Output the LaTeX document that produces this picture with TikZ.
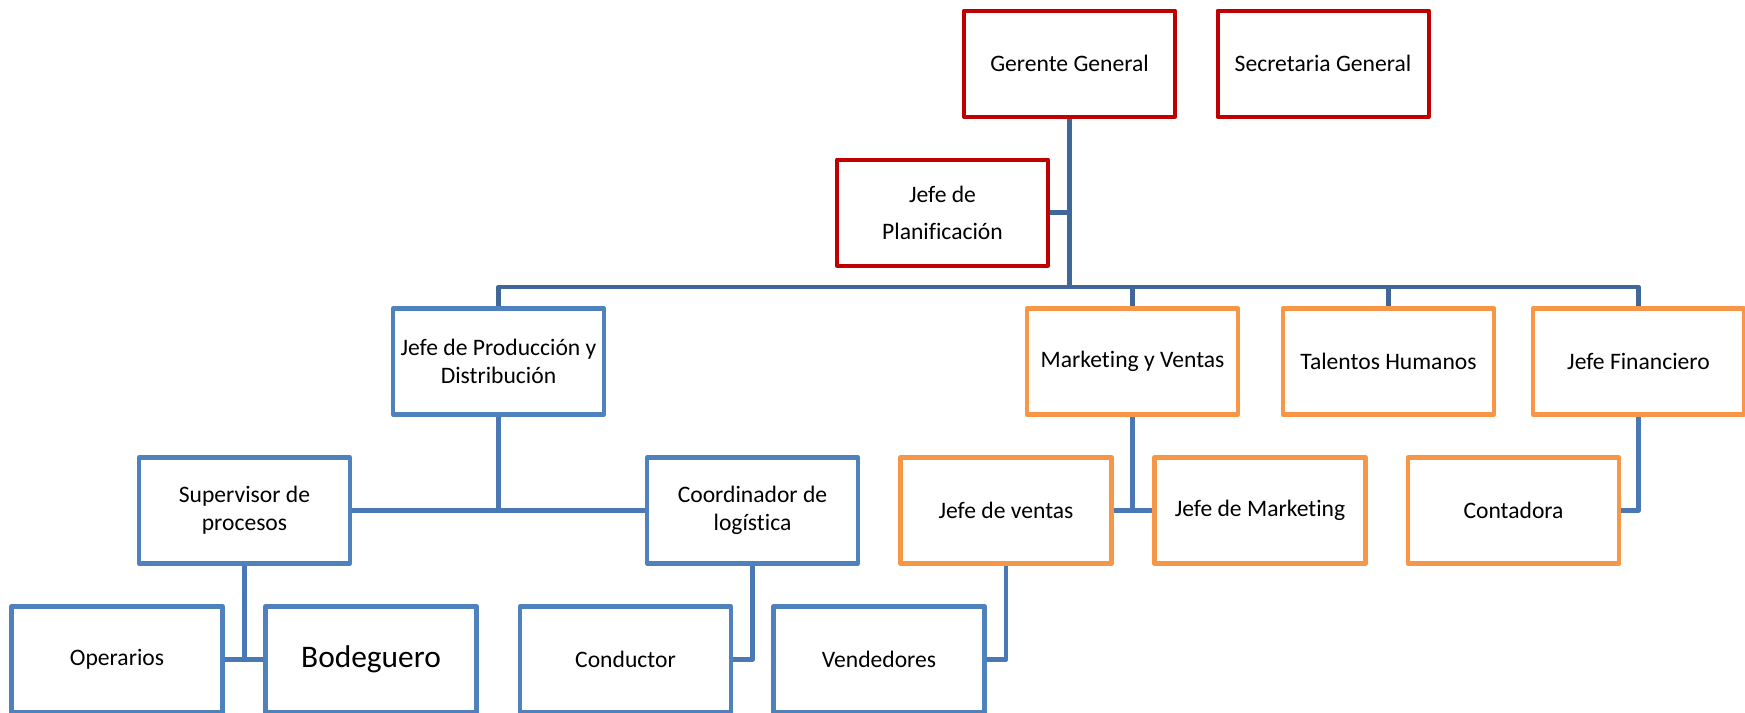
\documentclass[tikz,border=0pt]{standalone}
\usepackage{fontspec}
\setmainfont{Carlito}[Ligatures=NoCommon]
\usetikzlibrary{backgrounds}
\definecolor{redb}{RGB}{192,0,0}
\definecolor{blueb}{RGB}{79,129,189}
\definecolor{orangeb}{RGB}{247,150,70}
\definecolor{conn}{RGB}{74,120,180}
\definecolor{conntop}{RGB}{63,103,152}
\begin{document}
\begin{tikzpicture}[x=0.5pt,y=-0.5pt,
  box/.style={draw, minimum width=105.5pt, minimum height=53pt, inner sep=0pt, align=center,
    font=\fontsize{11.8}{14}\selectfont, fill=white, line join=round},
  redbox/.style={box, draw=redb, line width=2pt},
  bluebox/.style={box, draw=blueb, line width=2.1pt},
  orangebox/.style={box, draw=orangeb, line width=2.3pt},
  link/.style={draw=conn, line width=2.4pt, line join=round},
  toplink/.style={draw=conntop, line width=2.3pt, line join=round}]
\useasboundingbox (0,0) rectangle (1745,712);
\clip (0,0) rectangle (1745,712);
% row 0
\node[redbox] (gg) at (1069.5,63.5) {Gerente General};
\node[redbox] (sg) at (1323,63.5) {Secretaria General};
% row 1
\node[redbox, font=\fontsize{11.8}{18.5}\selectfont] (jp) at (942.5,212.5) {Jefe de\\Planificación};
\coordinate (bus) at (1069.5,287);
% row 2
\node[bluebox] (jpd) at (498.5,361.5) {Jefe de Producción y\\Distribución};
\node[orangebox] (mv) at (1132.5,361.5) {Marketing y Ventas};
\node[orangebox] (th) at (1388.5,361.5) {Talentos Humanos};
\node[orangebox] (jf) at (1638.5,361.5) {Jefe Financiero};
% row 3
\node[bluebox] (sp) at (244.5,510.5) {Supervisor de\\procesos};
\node[bluebox] (cl) at (752.5,510.5) {Coordinador de\\logística};
\node[orangebox] (jv) at (1006,510.5) {Jefe de ventas};
\node[orangebox] (jm) at (1260,510.5) {Jefe de Marketing};
\node[orangebox] (ct) at (1513.5,510.5) {Contadora};
% row 4
\node[bluebox] (op) at (117,659.5) {Operarios};
\node[bluebox, font=\fontsize{15.7}{18}\selectfont] (bd) at (371,659.5) {Bodeguero};
\node[bluebox] (cd) at (625.5,659.5) {Conductor};
\node[bluebox] (vd) at (879,659.5) {Vendedores};
\begin{pgfonlayer}{background}
  \fill[white] (0,0) rectangle (1745,712);
  \draw[toplink] (gg.south) -- (bus);
  \draw[toplink] (jp.east) -- (jp.east -| gg.south);
  \draw[toplink] (jpd.north) |- (bus) -| (jf.north);
  \draw[toplink] (mv.north) -- (mv.north |- bus);
  \draw[toplink] (th.north) -- (th.north |- bus);
  \draw[link] (jpd.south) -- (jpd.south |- sp.east);
  \draw[link] (sp.east) -- (cl.west);
  \draw[link] (mv.south) -- (mv.south |- jv.east);
  \draw[link] (jv.east) -- (jm.west);
  \draw[link] (jf.south) |- (ct.east);
  \draw[link] (sp.south) -- (sp.south |- op.east);
  \draw[link] (op.east) -- (bd.west);
  \draw[link] (cl.south) |- (cd.east);
  \draw[link] (jv.south) |- (vd.east);
\end{pgfonlayer}
\end{tikzpicture}
\end{document}
